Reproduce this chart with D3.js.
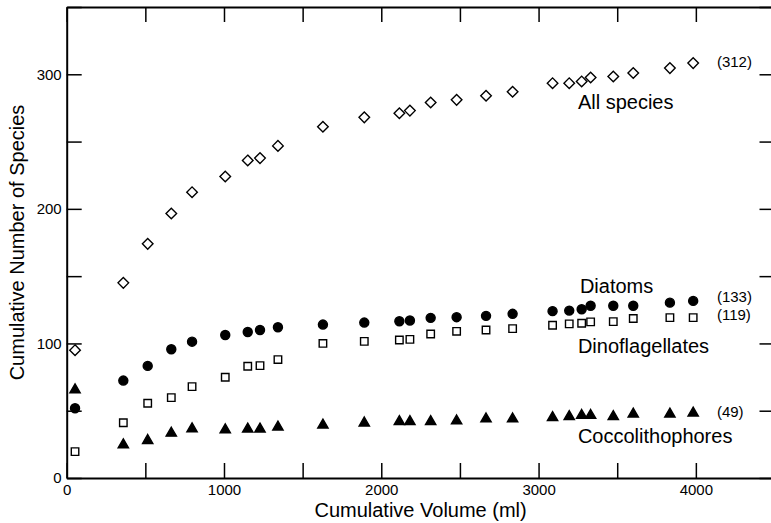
<!DOCTYPE html>
<html>
<head>
<meta charset="utf-8">
<script src="https://cdn.jsdelivr.net/npm/d3@7"></script>
<style>
  body { margin: 0; background: #fff; }
  svg { display: block; font-family: "Liberation Sans", Arial, Helvetica, sans-serif; }
</style>
</head>
<body>
<svg id="chart" width="771" height="523"></svg>
<script>
// cumulative volume (ml) of each sample, shared by all series
var volume = [53, 360, 515, 665, 797, 1008, 1151, 1229, 1343, 1629, 1892, 2115, 2182, 2314, 2479, 2666, 2835, 3089, 3195, 3274, 3331, 3475, 3602, 3835, 3983];
var allSpecies = [95, 145, 174, 196.5, 212.4, 224, 236, 237.7, 246.8, 261, 268, 271, 273, 279, 281, 284, 287, 293.4, 293.4, 294.7, 297.6, 298.4, 301, 304.6, 308.3];
var diatoms = [51.8, 72.4, 83.3, 95.7, 101.3, 106.3, 108.5, 110, 112, 114, 115.5, 116.5, 117, 119, 119.5, 120.5, 122, 124, 124.4, 125.4, 128, 128, 128, 130.3, 131.6];
var dinoflagellates = [19.6, 41.1, 55.5, 59.7, 67.9, 74.9, 83, 83.5, 88, 100, 101.5, 102.5, 103, 107, 109, 110, 111, 113.5, 114.5, 115, 116, 116.2, 118.5, 119.2, 119.2];
var coccolithophores = [66.7, 25.8, 29, 34.4, 37.7, 36.9, 37.5, 37.5, 39, 40.5, 42, 43, 43, 43, 43.5, 45, 45, 46, 46.8, 47.6, 47.6, 46.8, 48.6, 48.6, 49.3];

var xTicks = d3.range(0, 4501, 500);
var yTicks = d3.range(0, 351, 50);

// series names and totals, placed in data units
var seriesLabels = [
    { text: "All species", x: 3250, y: 274 },
    { text: "Diatoms", x: 3263, y: 137.5 },
    { text: "Dinoflagellates", x: 3250, y: 92.9 },
    { text: "Coccolithophores", x: 3250, y: 26 }
];
var totalLabels = [
    { text: "(312)", x: 4134, y: 305.4 },
    { text: "(133)", x: 4134, y: 130.8 },
    { text: "(119)", x: 4134, y: 117.4 },
    { text: "(49)", x: 4134, y: 45.3 }
];

var svg = d3.select("#chart");

var x = d3.scaleLinear().domain([0, 4500]).range([66.7, 774.5]);
var y = d3.scaleLinear().domain([0, 350]).range([478, 7]);

// symbols centred on their bounding box
var diamondType = { draw: function (ctx, size) {
    var r = Math.sqrt(size / 2);
    ctx.moveTo(0, -r); ctx.lineTo(r, 0); ctx.lineTo(0, r); ctx.lineTo(-r, 0); ctx.closePath();
} };
var triangleType = { draw: function (ctx, size) {
    var s = Math.sqrt(size * 4 / Math.sqrt(3)), h = s * Math.sqrt(3) / 2;
    ctx.moveTo(0, -h / 2); ctx.lineTo(s / 2, h / 2); ctx.lineTo(-s / 2, h / 2); ctx.closePath();
} };

var series = [
    { values: allSpecies, type: diamondType, size: 56, fill: "none" },
    { values: diatoms, type: d3.symbolCircle, size: 64, fill: "#000" },
    { values: dinoflagellates, type: d3.symbolSquare, size: 56, fill: "none" },
    { values: coccolithophores, type: triangleType, size: 46, fill: "#000" }
];

// axes, ticks pointing inward on all four sides
function styleAxis(g) {
    g.select(".domain").attr("stroke", "#000").attr("stroke-width", 2);
    g.selectAll(".tick line").attr("stroke", "#000").attr("stroke-width", 1.5);
    g.selectAll(".tick text").attr("fill", "#000").attr("font-size", 15);
}

svg.append("g")
    .attr("transform", "translate(0," + y(0) + ")")
    .call(d3.axisBottom(x).tickValues(xTicks).tickSize(-15).tickSizeOuter(0).tickPadding(6)
        .tickFormat(function (d) { return d % 1000 === 0 ? d : ""; }))
    .call(styleAxis);

svg.append("g")
    .attr("transform", "translate(0," + y(350) + ")")
    .call(d3.axisTop(x).tickValues(xTicks).tickSize(-15).tickSizeOuter(0).tickFormat(""))
    .call(styleAxis);

svg.append("g")
    .attr("transform", "translate(" + x(0) + ",0)")
    .call(d3.axisLeft(y).tickValues(yTicks).tickSize(-15).tickSizeOuter(0).tickPadding(5)
        .tickFormat(function (d) { return d % 100 === 0 ? d : ""; }))
    .call(styleAxis);

svg.append("g")
    .attr("transform", "translate(" + x(4500) + ",0)")
    .call(d3.axisRight(y).tickValues(yTicks).tickSize(-15).tickSizeOuter(0).tickFormat(""))
    .call(styleAxis);

// markers
series.forEach(function (s) {
    svg.append("g")
        .selectAll("path")
        .data(s.values)
        .join("path")
        .attr("transform", function (d, i) { return "translate(" + x(volume[i]) + "," + y(d) + ")"; })
        .attr("d", d3.symbol().type(s.type).size(s.size))
        .attr("fill", s.fill)
        .attr("stroke", "#000")
        .attr("stroke-width", 1.4);
});

svg.append("g")
    .selectAll("text")
    .data(seriesLabels)
    .join("text")
    .attr("x", function (d) { return x(d.x); })
    .attr("y", function (d) { return y(d.y); })
    .attr("font-size", 20)
    .attr("fill", "#000")
    .text(function (d) { return d.text; });

svg.append("g")
    .selectAll("text")
    .data(totalLabels)
    .join("text")
    .attr("x", function (d) { return x(d.x); })
    .attr("y", function (d) { return y(d.y); })
    .attr("font-size", 15)
    .attr("fill", "#000")
    .text(function (d) { return d.text; });

// axis titles
svg.append("text")
    .attr("x", (x(0) + x(4500)) / 2)
    .attr("y", 517)
    .attr("text-anchor", "middle")
    .attr("font-size", 20)
    .text("Cumulative Volume  (ml)");

svg.append("text")
    .attr("transform", "rotate(-90)")
    .attr("x", -(y(0) + y(350)) / 2)
    .attr("y", 24)
    .attr("text-anchor", "middle")
    .attr("font-size", 20)
    .text("Cumulative Number of Species");
</script>
</body>
</html>
